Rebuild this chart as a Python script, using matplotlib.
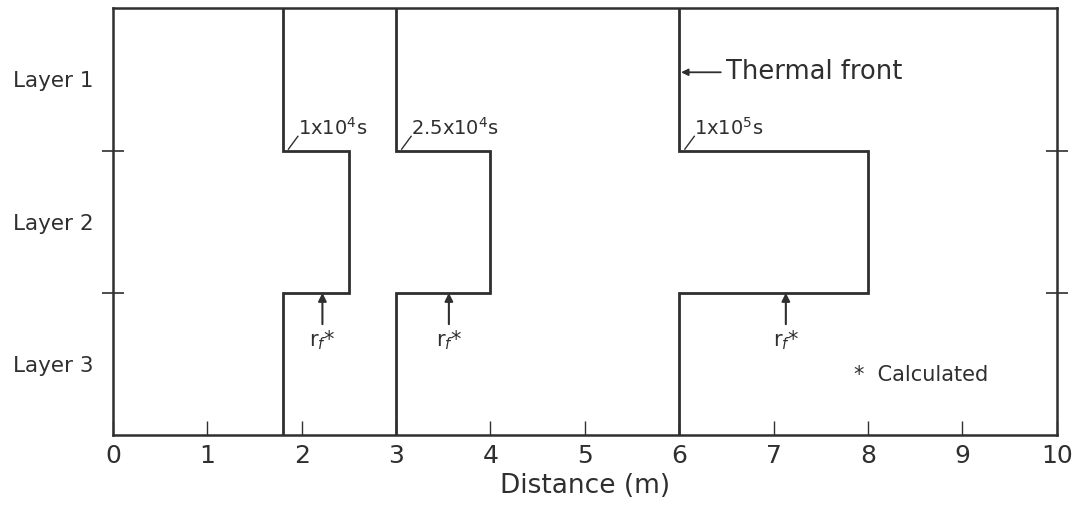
import matplotlib.pyplot as plt

# Thermal front positions (m) in each layer at three times
times = ['1x10$^4$s', '2.5x10$^4$s', '1x10$^5$s']
layer1_front = [1.8, 3.0, 6.0]
layer2_front = [2.5, 4.0, 8.0]
layer3_front = [1.8, 3.0, 6.0]

layers = ['Layer 1', 'Layer 2', 'Layer 3']
x_ticks = [0, 1, 2, 3, 4, 5, 6, 7, 8, 9, 10]
rf_pos = [2.22, 3.56, 7.13]

ink = '#2f2f2f'

fig = plt.figure(figsize=(10.75, 5.15), dpi=100)
ax = fig.add_axes([0.105, 0.155, 0.878, 0.829])

# stepped front lines, layer boundaries at depth 1 and 2
for a, b, c in zip(layer1_front, layer2_front, layer3_front):
    xs = [a, a, b, b, c, c]
    ys = [0, 1, 1, 2, 2, 3]
    ax.plot(xs, ys, color=ink, lw=2.0, solid_joinstyle='miter')

ax.set_xlim(0, 10)
ax.set_ylim(3, 0)

for s in ax.spines.values():
    s.set_color(ink)
    s.set_linewidth(1.8)

ax.set_xticks(x_ticks)
ax.set_xticklabels([str(t) for t in x_ticks], fontsize=18, color=ink)
ax.tick_params(axis='x', direction='in', length=10, width=1.0, color=ink, pad=6)

ax.set_yticks([1, 2])
ax.set_yticklabels([])
ax.tick_params(axis='y', direction='inout', length=16, width=1.2, color=ink,
               left=True, right=True)
ax.set_yticks([0.5, 1.5, 2.5], minor=True)
ax.set_yticklabels(layers, minor=True, fontsize=15.5, color=ink)
ax.tick_params(axis='y', which='minor', length=0, pad=14)

ax.set_xlabel('Distance (m)', fontsize=19, color=ink, labelpad=4)

# time labels with small leader lines
for x0, lab in zip(layer1_front, times):
    ax.plot([x0 + 0.06, x0 + 0.16], [0.99, 0.9], color=ink, lw=1.0)
    ax.text(x0 + 0.16, 0.92, lab, fontsize=14, color=ink, ha='left', va='bottom')

ax.annotate('Thermal front', xy=(6.02, 0.45), xytext=(6.5, 0.45),
            fontsize=18.5, color=ink, va='center', ha='left',
            arrowprops=dict(arrowstyle='-|>', color=ink, lw=1.3,
                            shrinkA=2, shrinkB=0, mutation_scale=10))

for xr in rf_pos:
    ax.annotate('', xy=(xr, 2.0), xytext=(xr, 2.22),
                arrowprops=dict(arrowstyle='-|>', color=ink, lw=1.5,
                                shrinkA=0, shrinkB=0, mutation_scale=12))
    ax.text(xr, 2.25, 'r$_f$*', fontsize=15, color=ink, ha='center', va='top')

ax.text(7.85, 2.58, '*  Calculated', fontsize=15, color=ink, ha='left', va='center')

fig.savefig('out.png', dpi=100)
